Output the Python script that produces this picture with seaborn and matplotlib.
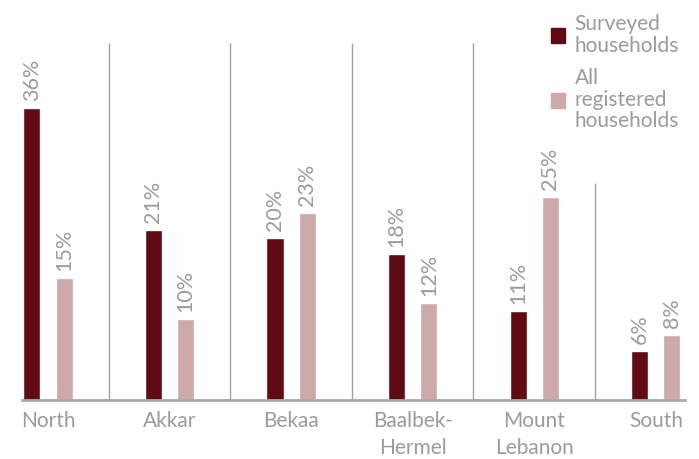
import numpy as np
import pandas as pd
import matplotlib
matplotlib.use("Agg")
import matplotlib.pyplot as plt
import matplotlib.patches as mpatches
import seaborn as sns

regions = ["North", "Akkar", "Bekaa", "Baalbek-\nHermel", "Mount\nLebanon", "South"]
surveyed = [36, 21, 20, 18, 11, 6]
registered = [15, 10, 23, 12, 25, 8]
series = ["Surveyed\nhouseholds", "All\nregistered\nhouseholds"]

dark = "#600a14"
light = "#cdaaa9"
grey = "#9b9b9b"

df = pd.DataFrame({
    "region": regions * 2,
    "share": surveyed + registered,
    "series": [series[0]] * len(regions) + [series[1]] * len(regions),
})

sns.set_style("white")
plt.rcParams["font.family"] = ["Lato", "DejaVu Sans"]

fig = plt.figure(figsize=(6.99, 4.59), dpi=100)
ax = fig.add_axes([22 / 699, 59 / 459, (685 - 22) / 699, 357 / 459])

sns.barplot(data=df, x="region", y="share", hue="series", order=regions,
            hue_order=series, palette=[dark, light], saturation=1,
            width=0.53, gap=0.47, legend=False, ax=ax)

for cont, vals in zip(ax.containers, [surveyed, registered]):
    ax.bar_label(cont, labels=[f"{v}%" for v in vals], rotation=90,
                 padding=5, color=grey, fontsize=15.5)

ax.set_ylim(0, 44)
ax.set_xlim(-0.214, 5.24)

# group separators
ax.vlines([0.5, 1.5, 2.5, 3.5], 0, 44, color="#a0a0a0", lw=1)
ax.vlines([4.5], 0, 26.8, color="#a0a0a0", lw=1)

for s in ["top", "right", "left"]:
    ax.spines[s].set_visible(False)
ax.spines["bottom"].set_color("#a8a8a8")
ax.spines["bottom"].set_linewidth(2)
ax.set_yticks([])
ax.set_xlabel("")
ax.set_ylabel("")
ax.tick_params(axis="x", length=0, pad=8, labelsize=15, labelcolor=grey)
for t in ax.get_xticklabels():
    t.set_linespacing(1.45)

handles = [mpatches.Patch(color=dark), mpatches.Patch(color=light)]
leg = fig.legend(handles, series, loc="upper left",
                 bbox_to_anchor=(532 / 699, 1.01), frameon=False, fontsize=15,
                 labelcolor=grey, handlelength=0.7, handleheight=0.7,
                 handletextpad=0.45, labelspacing=0.6)
for t in leg.get_texts():
    t.set_linespacing(1.1)

fig.savefig("out.png", dpi=100)
